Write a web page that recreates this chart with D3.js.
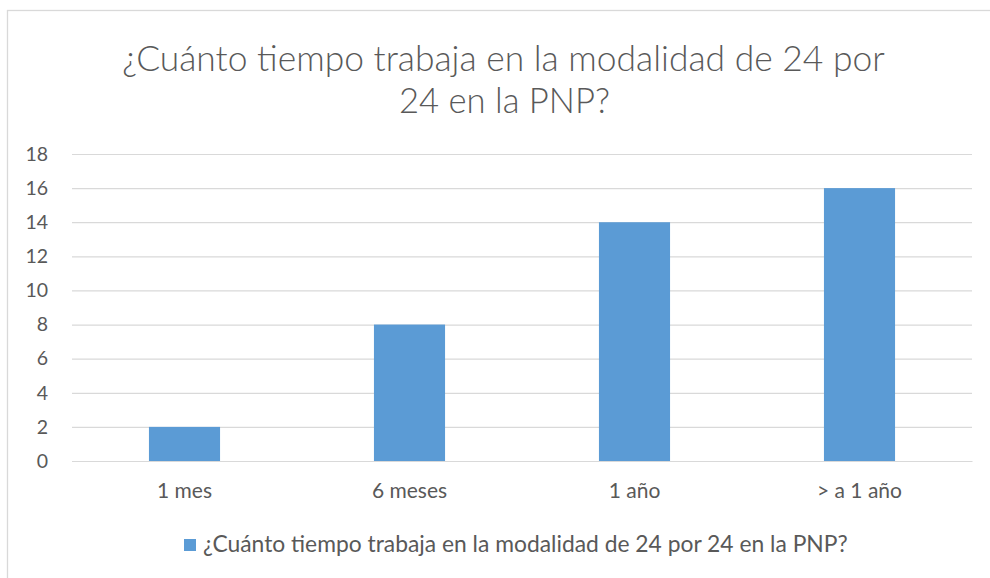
<!DOCTYPE html>
<html>
<head>
<meta charset="utf-8">
<script src="https://cdn.jsdelivr.net/npm/d3@7"></script>
<style>
  html, body { margin: 0; padding: 0; background: #fff; }
  svg { display: block; }
  text { font-family: Lato, "Open Sans", sans-serif; fill: #595959; }
</style>
</head>
<body>
<svg id="chart" width="990" height="578"></svg>
<script>
// data
const categories = ['1 mes', '6 meses', '1 año', '> a 1 año'];
const values = [2, 8, 14, 16];
const yTicks = [0, 2, 4, 6, 8, 10, 12, 14, 16, 18];
const titleLines = ['¿Cuánto tiempo trabaja en la modalidad de 24 por', '24 en la PNP?'];
const seriesName = '¿Cuánto tiempo trabaja en la modalidad de 24 por 24 en la PNP?';

const width = 990,
  height = 578,
  barColor = '#5b9bd5',
  gridColor = '#d9d9d9',
  plot = { left: 72, right: 972, top: 154, bottom: 461 };

const svg = d3.select('#chart');

// chart frame (runs off the right / bottom edge like the source)
svg.append('rect')
  .attr('x', 7.5)
  .attr('y', 10.5)
  .attr('width', 1000)
  .attr('height', 600)
  .attr('fill', '#fff')
  .attr('stroke', gridColor)
  .attr('stroke-width', 1.3);

const x = d3.scaleBand()
  .domain(categories)
  .range([plot.left, plot.right])
  .paddingInner(0.684)
  .paddingOuter(0.342);

const y = d3.scaleLinear()
  .domain([0, 18])
  .range([plot.bottom, plot.top]);

// shrink/grow a text node so it spans a given width
const fitWidth = (sel, target) => {
  sel.each(function() {
    const w = this.getComputedTextLength();
    const fs = parseFloat(d3.select(this).style('font-size'));
    d3.select(this).style('font-size', (fs * target / w) + 'px');
  });
};

// title
const title = svg.append('g').attr('class', 'title');
title.append('text')
  .attr('x', 503.5)
  .attr('y', 71)
  .attr('text-anchor', 'middle')
  .style('font-size', '30px')
  .style('font-weight', 300)
  .text(titleLines[0])
  .call(fitWidth, 763);
title.append('text')
  .attr('x', 504.5)
  .attr('y', 113)
  .attr('text-anchor', 'middle')
  .style('font-size', '30px')
  .style('font-weight', 300)
  .text(titleLines[1])
  .call(fitWidth, 211);

// y axis: gridlines + labels
const yAxis = svg.append('g')
  .attr('transform', `translate(${plot.left},0)`)
  .call(
    d3.axisLeft(y)
      .tickValues(yTicks)
      .tickSize(-(plot.right - plot.left))
      .tickPadding(24)
  );
yAxis.select('.domain').remove();
yAxis.selectAll('.tick line')
  .attr('stroke', gridColor)
  .attr('stroke-width', 1.2);
yAxis.selectAll('.tick text')
  .style('font-size', '19.5px')
  .style('font-family', 'Lato, "Open Sans", sans-serif')
  .attr('fill', '#595959');

// bars
svg.append('g')
  .selectAll('rect')
  .data(values)
  .join('rect')
  .attr('x', (d, i) => x(categories[i]))
  .attr('y', d => y(d))
  .attr('width', x.bandwidth())
  .attr('height', d => y(0) - y(d))
  .attr('fill', barColor);

// x axis
const xAxis = svg.append('g')
  .attr('transform', `translate(0,${plot.bottom})`)
  .call(d3.axisBottom(x).tickSize(0).tickPadding(22));
xAxis.select('.domain')
  .attr('stroke', gridColor)
  .attr('stroke-width', 1.2);
xAxis.selectAll('.tick text')
  .style('font-size', '21px')
  .style('font-family', 'Lato, "Open Sans", sans-serif')
  .attr('fill', '#595959');

// legend
const legend = svg.append('g').attr('class', 'legend');
legend.append('text')
  .attr('x', 203)
  .attr('y', 552)
  .style('font-size', '18px')
  .text(seriesName)
  .call(fitWidth, 645);
legend.append('rect')
  .attr('x', 184)
  .attr('y', 539)
  .attr('width', 12)
  .attr('height', 12)
  .attr('fill', barColor);
</script>
</body>
</html>
